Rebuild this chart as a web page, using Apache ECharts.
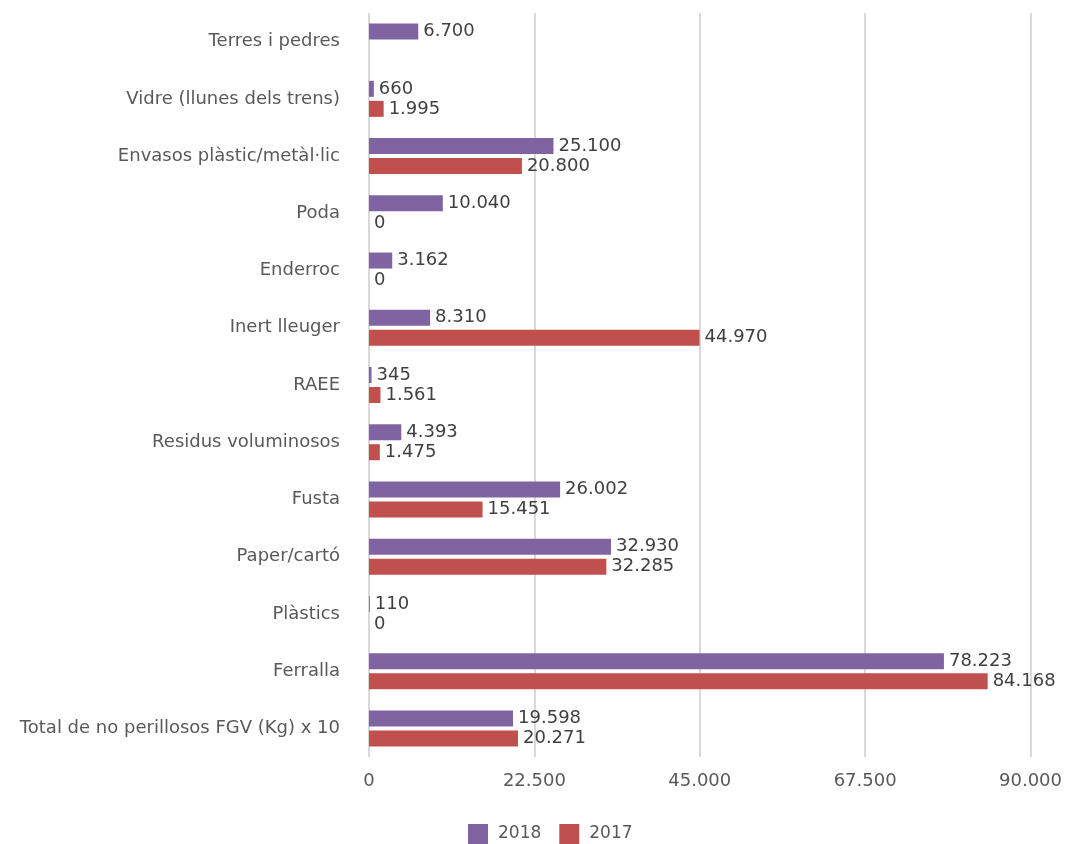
<!DOCTYPE html>
<html><head><meta charset="utf-8">
<script src="https://cdn.jsdelivr.net/npm/echarts@6/dist/echarts.min.js"></script>
<style>html,body{margin:0;padding:0;background:#fff}#c{width:1065px;height:844px}</style>
</head><body><div id="c"></div>
<script>
const categories = ["Terres i pedres","Vidre (llunes dels trens)","Envasos plàstic/metàl·lic","Poda","Enderroc","Inert lleuger","RAEE","Residus voluminosos","Fusta","Paper/cartó","Plàstics","Ferralla","Total de no perillosos FGV (Kg) x 10"];
const values2018 = [6700,660,25100,10040,3162,8310,345,4393,26002,32930,110,78223,19598];
const values2017 = [null,1995,20800,0,0,44970,1561,1475,15451,32285,0,84168,20271];
const xTicks = [0,22500,45000,67500,90000];
const fmt = v => String(v).replace(/\B(?=(\d{3})+(?!\d))/g, ".");
const font = "'DejaVu Sans', sans-serif";
const chart = echarts.init(document.getElementById('c'));
chart.setOption({
  animation:false,
  grid:{left:369,right:33,top:13,bottom:87,containLabel:false},
  legend:{top:819,left:463,itemWidth:20,itemHeight:20,itemGap:18,icon:'rect',
    textStyle:{fontFamily:font,fontSize:17,color:'#595959',padding:[0,0,0,5]},data:['2018','2017']},
  xAxis:{type:'value',min:xTicks[0],max:xTicks[xTicks.length-1],interval:22500,
    axisLine:{show:false},axisTick:{show:false},
    splitLine:{lineStyle:{color:'#d9d9d9',width:2}},
    axisLabel:{formatter:fmt,fontFamily:font,fontSize:18,color:'#595959',margin:15}},
  yAxis:{type:'category',data:categories,inverse:true,
    axisLine:{show:false},axisTick:{show:false},
    axisLabel:{fontFamily:font,fontSize:18,color:'#595959',margin:29}},
  series:[
    {name:'2018',type:'bar',data:values2018,barWidth:16,barGap:'25%',
     itemStyle:{color:'#8064A2'},
     label:{show:true,position:'right',distance:5,formatter:p=>fmt(p.value),fontFamily:font,fontSize:18,color:'#404040'}},
    {name:'2017',type:'bar',data:values2017,barWidth:16,barGap:'25%',
     itemStyle:{color:'#C0504D'},
     label:{show:true,position:'right',distance:5,formatter:p=>p.value==null?'':fmt(p.value),fontFamily:font,fontSize:18,color:'#404040'}}
  ]
});
</script></body></html>
